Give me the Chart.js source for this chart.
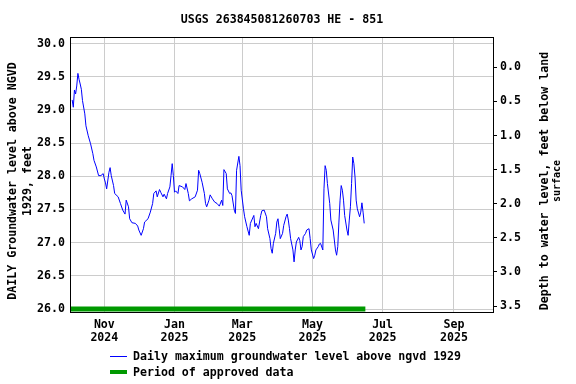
<!DOCTYPE html>
<html>
<head>
<meta charset="utf-8">
<script src="https://cdn.jsdelivr.net/npm/chart.js@4.4.1/dist/chart.umd.min.js"></script>
<style>
html, body { margin: 0; padding: 0; background: #fff; }
</style>
</head>
<body>
<canvas id="chart" width="576" height="384"></canvas>
<script>
const siteTitle = 'USGS 263845081260703 HE - 851';

// daily maximum level, feet above NGVD 1929
const obsDates = [
    '2024-10-04','2024-10-05','2024-10-06','2024-10-07','2024-10-08','2024-10-09','2024-10-10','2024-10-11',
    '2024-10-12','2024-10-13','2024-10-15','2024-10-16','2024-10-18','2024-10-20','2024-10-22','2024-10-23',
    '2024-10-25','2024-10-27','2024-10-29','2024-10-31','2024-11-01','2024-11-02','2024-11-03','2024-11-05',
    '2024-11-06','2024-11-07','2024-11-09','2024-11-10','2024-11-13','2024-11-15','2024-11-17','2024-11-19',
    '2024-11-20','2024-11-22','2024-11-23','2024-11-25','2024-11-28','2024-11-30','2024-12-01','2024-12-03',
    '2024-12-05','2024-12-06','2024-12-09','2024-12-11','2024-12-13','2024-12-14','2024-12-16','2024-12-17',
    '2024-12-19','2024-12-20','2024-12-22','2024-12-23','2024-12-25','2024-12-26','2024-12-28','2024-12-29',
    '2024-12-30','2024-12-31','2025-01-01','2025-01-02','2025-01-04','2025-01-05','2025-01-08','2025-01-10',
    '2025-01-11','2025-01-13','2025-01-14','2025-01-16','2025-01-19','2025-01-21','2025-01-22','2025-01-23',
    '2025-01-25','2025-01-27','2025-01-28','2025-01-29','2025-01-31','2025-02-01','2025-02-03','2025-02-05',
    '2025-02-07','2025-02-09','2025-02-11','2025-02-12','2025-02-13','2025-02-15','2025-02-16','2025-02-18',
    '2025-02-19','2025-02-20','2025-02-22','2025-02-23','2025-02-24','2025-02-26','2025-02-27','2025-02-28',
    '2025-03-02','2025-03-03','2025-03-05','2025-03-07','2025-03-08','2025-03-11','2025-03-12','2025-03-13',
    '2025-03-15','2025-03-16','2025-03-17','2025-03-18','2025-03-20','2025-03-22','2025-03-23','2025-03-25',
    '2025-03-26','2025-03-27','2025-03-28','2025-03-30','2025-03-31','2025-04-01','2025-04-02','2025-04-03',
    '2025-04-05','2025-04-06','2025-04-08','2025-04-09','2025-04-10','2025-04-11','2025-04-12','2025-04-14',
    '2025-04-15','2025-04-16','2025-04-17','2025-04-19','2025-04-20','2025-04-21','2025-04-22','2025-04-23',
    '2025-04-25','2025-04-26','2025-04-28','2025-04-29','2025-04-30','2025-05-02','2025-05-03','2025-05-04',
    '2025-05-06','2025-05-07','2025-05-08','2025-05-10','2025-05-11','2025-05-12','2025-05-13','2025-05-14',
    '2025-05-16','2025-05-17','2025-05-19','2025-05-20','2025-05-21','2025-05-22','2025-05-23','2025-05-24',
    '2025-05-25','2025-05-26','2025-05-27','2025-05-28','2025-05-29','2025-05-31','2025-06-01','2025-06-02',
    '2025-06-03','2025-06-04','2025-06-05','2025-06-06','2025-06-07','2025-06-08','2025-06-09','2025-06-11',
    '2025-06-12','2025-06-13','2025-06-14','2025-06-15'
];
const obsLevels = [
    29.15, 29.04, 29.30, 29.24, 29.36, 29.55, 29.46, 29.39,
    29.31, 29.14, 28.94, 28.76, 28.61, 28.49, 28.34, 28.24,
    28.14, 28.01, 28.01, 28.04, 27.96, 27.90, 27.81, 28.06,
    28.13, 28.01, 27.86, 27.74, 27.69, 27.59, 27.49, 27.43,
    27.64, 27.54, 27.36, 27.30, 27.29, 27.25, 27.19, 27.11,
    27.21, 27.31, 27.36, 27.46, 27.59, 27.74, 27.78, 27.69,
    27.80, 27.76, 27.69, 27.73, 27.66, 27.74, 27.84, 28.01,
    28.19, 28.01, 27.76, 27.78, 27.74, 27.86, 27.84, 27.80,
    27.89, 27.74, 27.63, 27.66, 27.69, 27.79, 28.09, 28.04,
    27.91, 27.74, 27.59, 27.54, 27.64, 27.72, 27.66, 27.61,
    27.59, 27.55, 27.64, 27.56, 28.10, 28.04, 27.81, 27.74,
    27.75, 27.71, 27.49, 27.44, 28.09, 28.30, 28.16, 27.79,
    27.51, 27.39, 27.24, 27.11, 27.29, 27.41, 27.24, 27.29,
    27.21, 27.31, 27.41, 27.48, 27.49, 27.39, 27.21, 27.06,
    26.91, 26.84, 26.99, 27.14, 27.31, 27.36, 27.21, 27.06,
    27.14, 27.26, 27.39, 27.43, 27.34, 27.21, 27.06, 26.89,
    26.71, 26.89, 27.01, 27.08, 27.03, 26.89, 26.94, 27.09,
    27.14, 27.19, 27.21, 27.06, 26.89, 26.76, 26.81, 26.89,
    26.94, 26.98, 26.99, 26.89, 27.81, 28.16, 28.09, 27.89,
    27.59, 27.34, 27.19, 27.04, 26.89, 26.81, 26.94, 27.31,
    27.64, 27.86, 27.79, 27.64, 27.41, 27.19, 27.11, 27.34,
    27.54, 27.89, 28.29, 28.19, 27.99, 27.64, 27.51, 27.39,
    27.46, 27.60, 27.46, 27.29
];

// period of approved data, drawn along the 26.0 line
const approvedDates = ['2024-10-03', '2025-06-16'];
const approvedLevels = [26.0, 26.0];

const monthTicks = ['2024-11-01', '2025-01-01', '2025-03-01', '2025-05-01', '2025-07-01', '2025-09-01'];
const monthLabels = [['Nov', '2024'], ['Jan', '2025'], ['Mar', '2025'], ['May', '2025'], ['Jul', '2025'], ['Sep', '2025']];
const levelTicks = [26.0, 26.5, 27.0, 27.5, 28.0, 28.5, 29.0, 29.5, 30.0];
const depthTicks = [0.0, 0.5, 1.0, 1.5, 2.0, 2.5, 3.0, 3.5];

const dateRange = ['2024-10-03', '2025-10-05'];
const levelRange = [25.955, 30.083];
const depthRange = [-0.43, 3.587];

const leftTitle = ['DAILY Groundwater level above NGVD', '1929, feet'];
const rightTitle = ['Depth to water level, feet below land', 'surface'];

const FONT = '"DejaVu Sans Mono", monospace';
Chart.defaults.font.family = FONT;
Chart.defaults.font.size = 11.6;
Chart.defaults.font.weight = 'bold';
Chart.defaults.color = '#000';

const toPoints = (dates, values) => dates.map((d, i) => ({ x: Date.parse(d), y: values[i] }));

const frame = {
    id: 'frame',
    afterDraw(chart) {
        const { ctx, chartArea: a } = chart;
        ctx.save();
        ctx.strokeStyle = '#000';
        ctx.lineWidth = 1;
        ctx.strokeRect(Math.round(a.left) - 0.5, Math.round(a.top) - 0.5,
            Math.round(a.right - a.left) + 1, Math.round(a.bottom - a.top) + 1);

        ctx.fillStyle = '#000';
        ctx.textAlign = 'center';
        ctx.textBaseline = 'middle';
        ctx.font = 'bold 11.6px ' + FONT;
        ctx.fillText(siteTitle, 282, 20);

        // axis titles, both read bottom to top
        const side = (lines, xs, y, sizes) => {
            lines.forEach((t, i) => {
                ctx.save();
                ctx.translate(xs[i], y);
                ctx.rotate(-Math.PI / 2);
                ctx.font = 'bold ' + sizes[i] + 'px ' + FONT;
                ctx.fillText(t, 0, 0);
                ctx.restore();
            });
        };
        side(leftTitle, [13, 28], 181, [11.6, 11.6]);
        side(rightTitle, [545, 557], 181, [11.6, 10]);

        // legend
        const ds = chart.data.datasets;
        ctx.textAlign = 'left';
        ctx.font = 'bold 11.6px ' + FONT;
        ctx.strokeStyle = ds[0].borderColor;
        ctx.beginPath();
        ctx.moveTo(110, 356.5);
        ctx.lineTo(127, 356.5);
        ctx.stroke();
        ctx.fillText(ds[0].label, 133, 357);
        ctx.fillStyle = ds[1].borderColor;
        ctx.fillRect(110, 370, 17, 4);
        ctx.fillStyle = '#000';
        ctx.fillText(ds[1].label, 133, 373);
        ctx.restore();
    }
};

new Chart(document.getElementById('chart').getContext('2d'), {
    type: 'line',
    data: {
        datasets: [{
            label: 'Daily maximum groundwater level above ngvd 1929',
            data: toPoints(obsDates, obsLevels),
            borderColor: '#0000ff',
            borderWidth: 1,
            pointRadius: 0,
            tension: 0,
            fill: false,
            yAxisID: 'y'
        }, {
            label: 'Period of approved data',
            data: toPoints(approvedDates, approvedLevels),
            borderColor: '#009900',
            borderWidth: 5,
            borderCapStyle: 'butt',
            pointRadius: 0,
            fill: false,
            yAxisID: 'y'
        }]
    },
    options: {
        responsive: false,
        animation: false,
        layout: { padding: { top: 38, left: 0, right: 0, bottom: 0 } },
        plugins: {
            legend: { display: false },
            title: { display: false },
            tooltip: { enabled: false }
        },
        scales: {
            x: {
                type: 'linear',
                min: Date.parse(dateRange[0]),
                max: Date.parse(dateRange[1]),
                afterBuildTicks: s => { s.ticks = monthTicks.map(d => ({ value: Date.parse(d) })); },
                afterFit: s => { s.height = 72; },
                grid: { color: '#cccccc', drawTicks: false },
                border: { display: false },
                ticks: {
                    autoSkip: false,
                    maxRotation: 0,
                    padding: 7,
                    font: { lineHeight: 1.1 },
                    callback: (v, i) => monthLabels[i]
                }
            },
            y: {
                position: 'left',
                min: levelRange[0],
                max: levelRange[1],
                afterBuildTicks: s => { s.ticks = levelTicks.map(v => ({ value: v })); },
                afterFit: s => { s.width = 71; },
                grid: { color: '#cccccc', drawTicks: false },
                border: { display: false },
                ticks: { padding: 6, callback: v => v.toFixed(1) }
            },
            y2: {
                position: 'right',
                reverse: true,
                min: depthRange[0],
                max: depthRange[1],
                afterBuildTicks: s => { s.ticks = depthTicks.map(v => ({ value: v })); },
                afterFit: s => { s.width = 83; },
                grid: { drawOnChartArea: false, drawTicks: true, tickLength: 4, color: '#000' },
                border: { display: false },
                ticks: { padding: 3, callback: v => v.toFixed(1) }
            }
        }
    },
    plugins: [frame]
});
</script>
</body>
</html>
